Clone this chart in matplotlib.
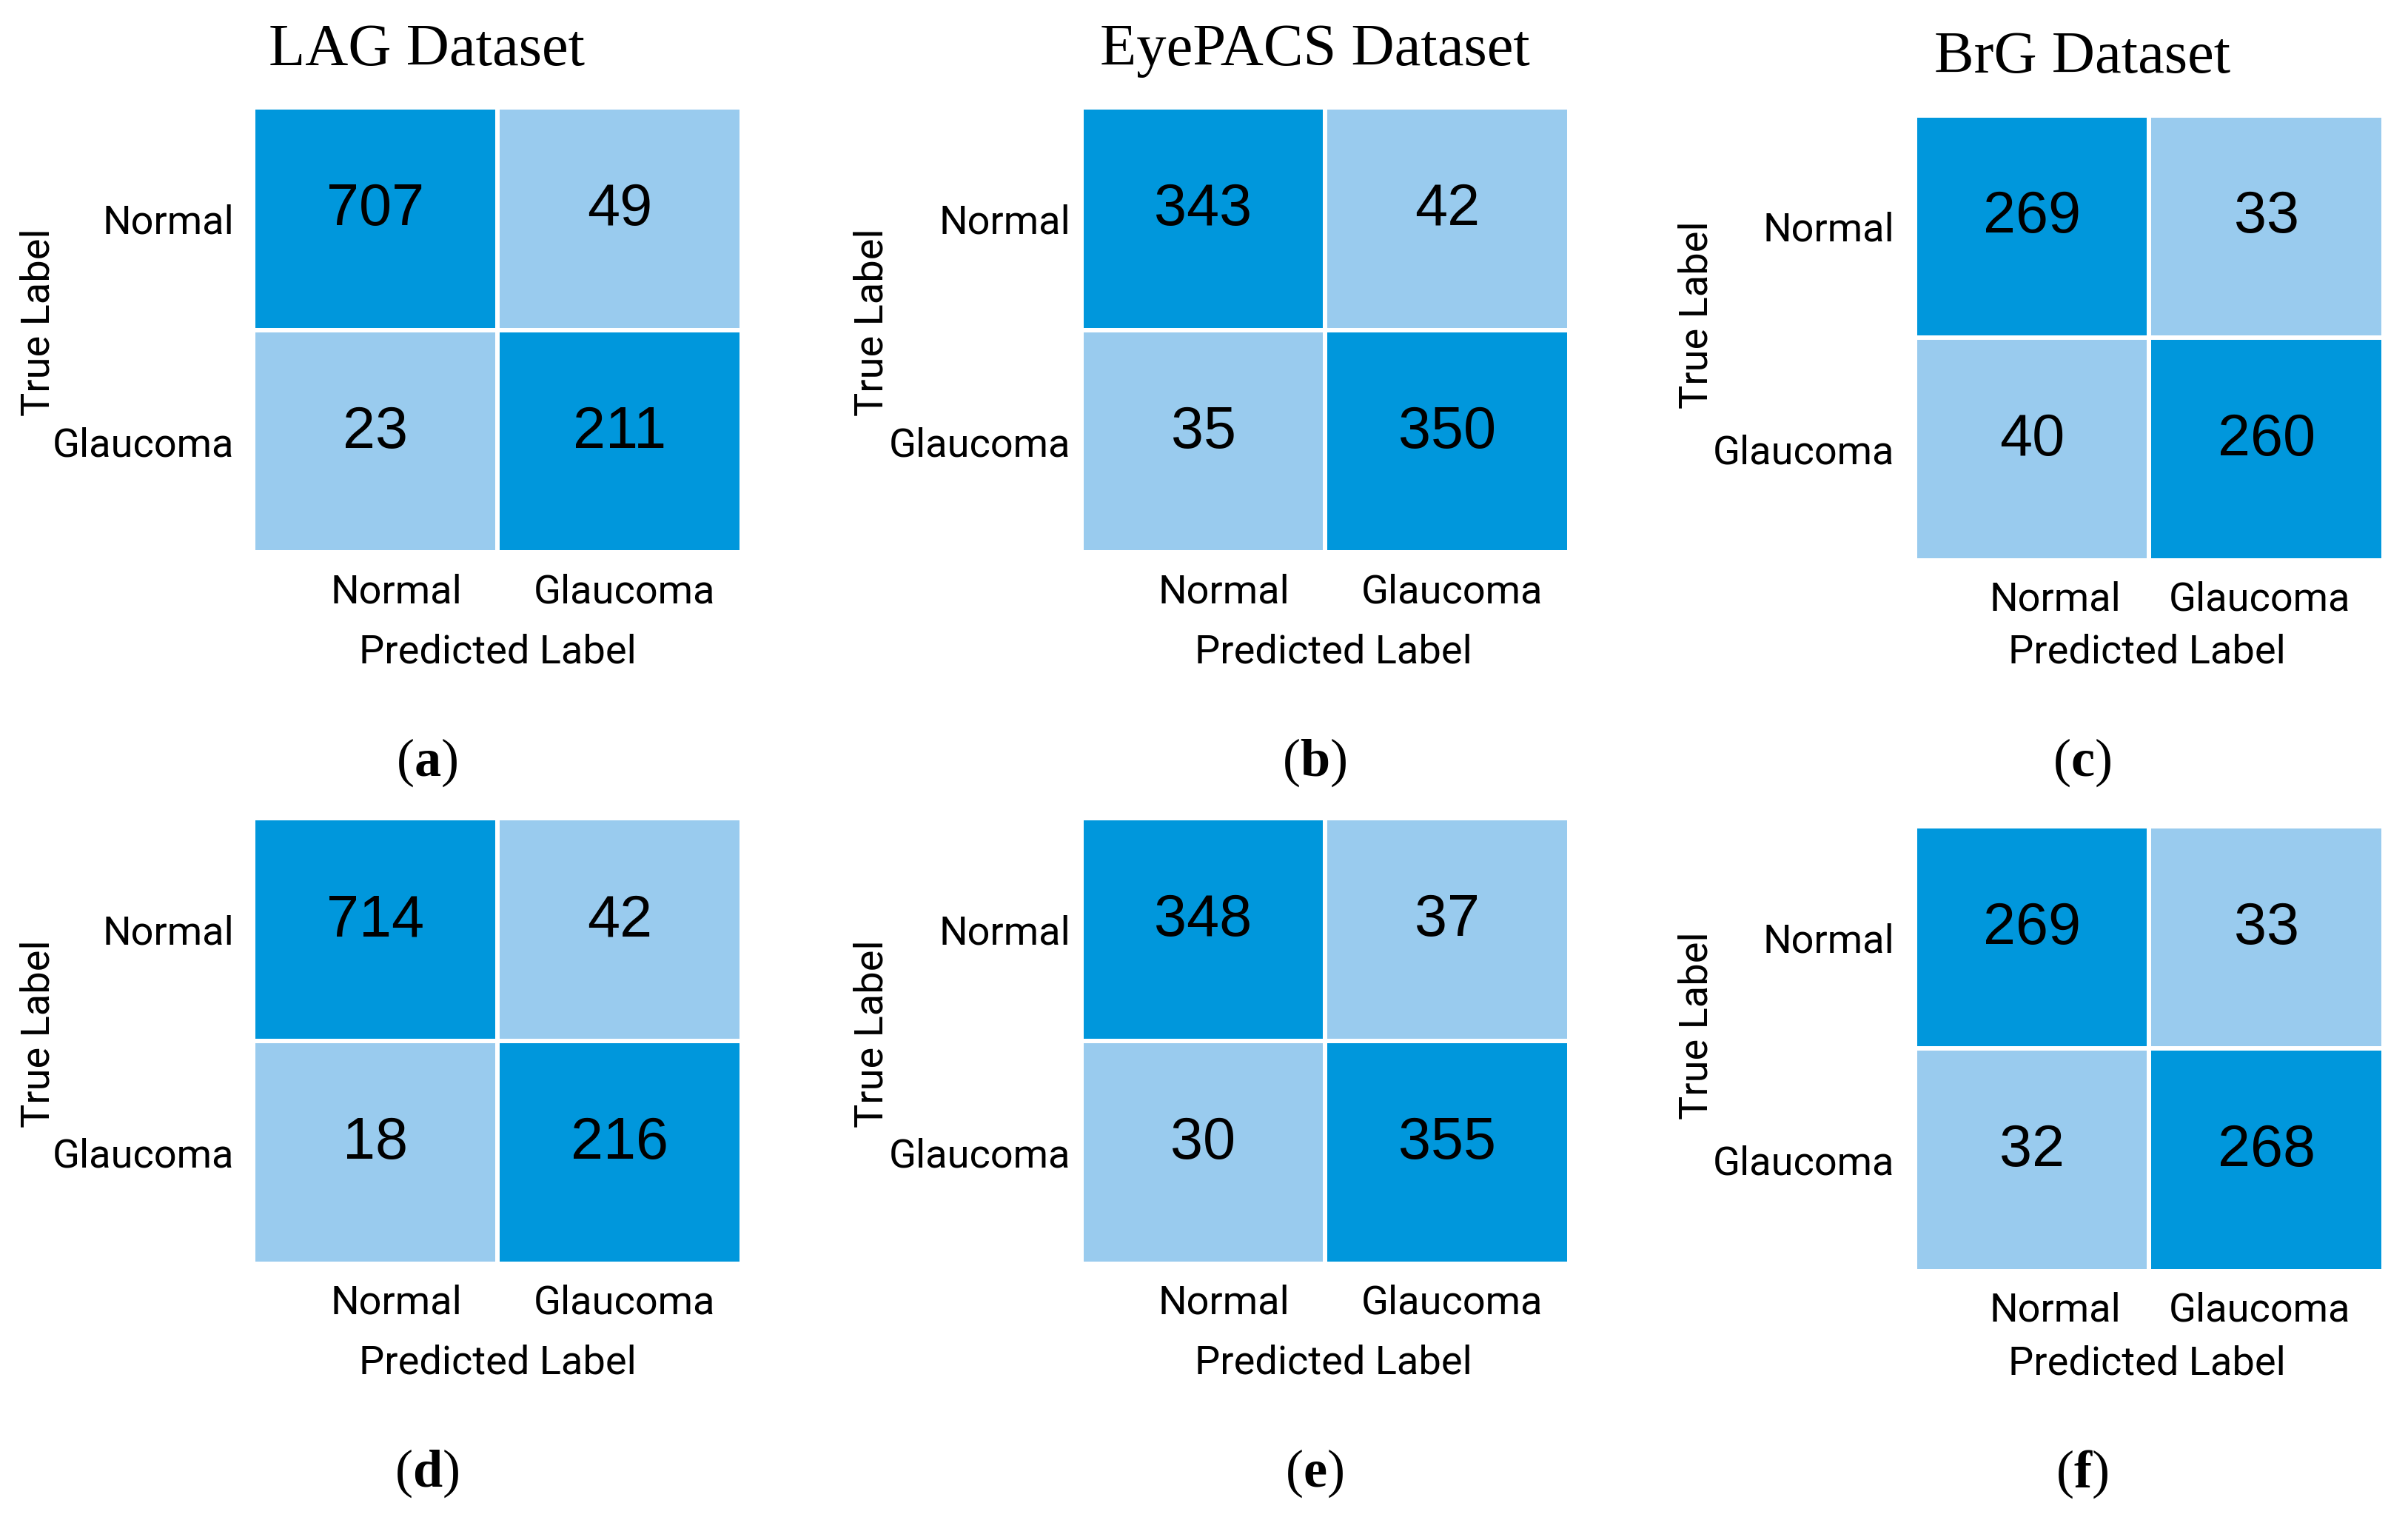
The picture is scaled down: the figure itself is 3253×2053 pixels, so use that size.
import numpy as np
import matplotlib
matplotlib.use('Agg')
import matplotlib.pyplot as plt
from matplotlib.colors import ListedColormap

# Confusion matrices (rows = true label, cols = predicted label)
classes = ['Normal', 'Glaucoma']
datasets = ['LAG Dataset', 'EyePACS Dataset', 'BrG Dataset']
letters = ['a', 'b', 'c', 'd', 'e', 'f']

lag_top = [[707, 49], [23, 211]]
eyepacs_top = [[343, 42], [35, 350]]
brg_top = [[269, 33], [40, 260]]
lag_bottom = [[714, 42], [18, 216]]
eyepacs_bottom = [[348, 37], [30, 355]]
brg_bottom = [[269, 33], [32, 268]]

matrices = [lag_top, eyepacs_top, brg_top, lag_bottom, eyepacs_bottom, brg_bottom]

light = '#99CBEE'
dark = '#0097DC'
cmap = ListedColormap([light, dark])

tick_font = 'Roboto'
num_font = 'Liberation Sans'
serif_font = 'Liberation Serif'

# bold letter, regular parentheses for the panel tags
plt.rcParams['mathtext.fontset'] = 'custom'
plt.rcParams['mathtext.rm'] = 'Liberation Serif'
plt.rcParams['mathtext.bf'] = 'Liberation Serif:bold'

fig = plt.figure(figsize=(32.53, 20.53), dpi=100)

# axes boxes [left, bottom, width, height] in figure fractions
boxes = [
    [0.1052, 0.6364, 0.2028, 0.2929],
    [0.4490, 0.6364, 0.2028, 0.2929],
    [0.7953, 0.6313, 0.1945, 0.2929],
    [0.1052, 0.1687, 0.2028, 0.2929],
    [0.4490, 0.1687, 0.2028, 0.2929],
    [0.7953, 0.1636, 0.1945, 0.2929],
]

# per-column layout tweaks
title_x = [0.355, 0.478, 0.357]
true_x = [-0.44, -0.428, -0.466]
pred_x = [0.5, 0.516, 0.495]
ypad = [19, 10, 20]
xtick_pos = [[0.085, 1.02], [0.085, 1.02], [0.097, 0.97]]

for i, (mat, box) in enumerate(zip(matrices, boxes)):
    col = i % 3
    ax = fig.add_axes(box)
    mat = np.array(mat)
    correct = np.eye(2)
    ax.pcolormesh(np.arange(3) - 0.5, np.arange(3) - 0.5, correct, cmap=cmap,
                  edgecolors='white', linewidth=4)
    ax.set_xlim(-0.5, 1.5)
    ax.set_ylim(1.5, -0.5)
    for r in range(2):
        for c in range(2):
            ax.text(c, r - 0.04, str(mat[r, c]), ha='center', va='center',
                    fontsize=57, family=num_font, color='black')
    ax.set_xticks(xtick_pos[col])
    ax.set_xticklabels(classes, fontsize=39, family=tick_font)
    ax.set_yticks([0, 1])
    ax.set_yticklabels(classes, fontsize=39, family=tick_font)
    ax.tick_params(axis='x', length=0, pad=20)
    ax.tick_params(axis='y', length=0, pad=ypad[col])
    for s in ax.spines.values():
        s.set_visible(False)

    yrel = 0.517 if col < 2 else 0.552
    ax.text(true_x[col], yrel, 'True Label', rotation=90, ha='center', va='center',
            fontsize=39, family=tick_font, transform=ax.transAxes)
    pred_y = -0.224 if col < 2 else -0.207
    ax.text(pred_x[col], pred_y, 'Predicted Label', ha='center', va='center',
            fontsize=39, family=tick_font, transform=ax.transAxes)

    if i < 3:
        ax.text(title_x[col], 1.128, datasets[col], ha='center', va='center',
                fontsize=58, family=serif_font, transform=ax.transAxes)

    let_y = -0.472 if col < 2 else -0.455
    ax.text(title_x[col], let_y, r'($\mathbf{' + letters[i] + '}$)', ha='center', va='center',
            fontsize=52, family=serif_font, transform=ax.transAxes)

fig.savefig('out.png', dpi=100, facecolor='white')
